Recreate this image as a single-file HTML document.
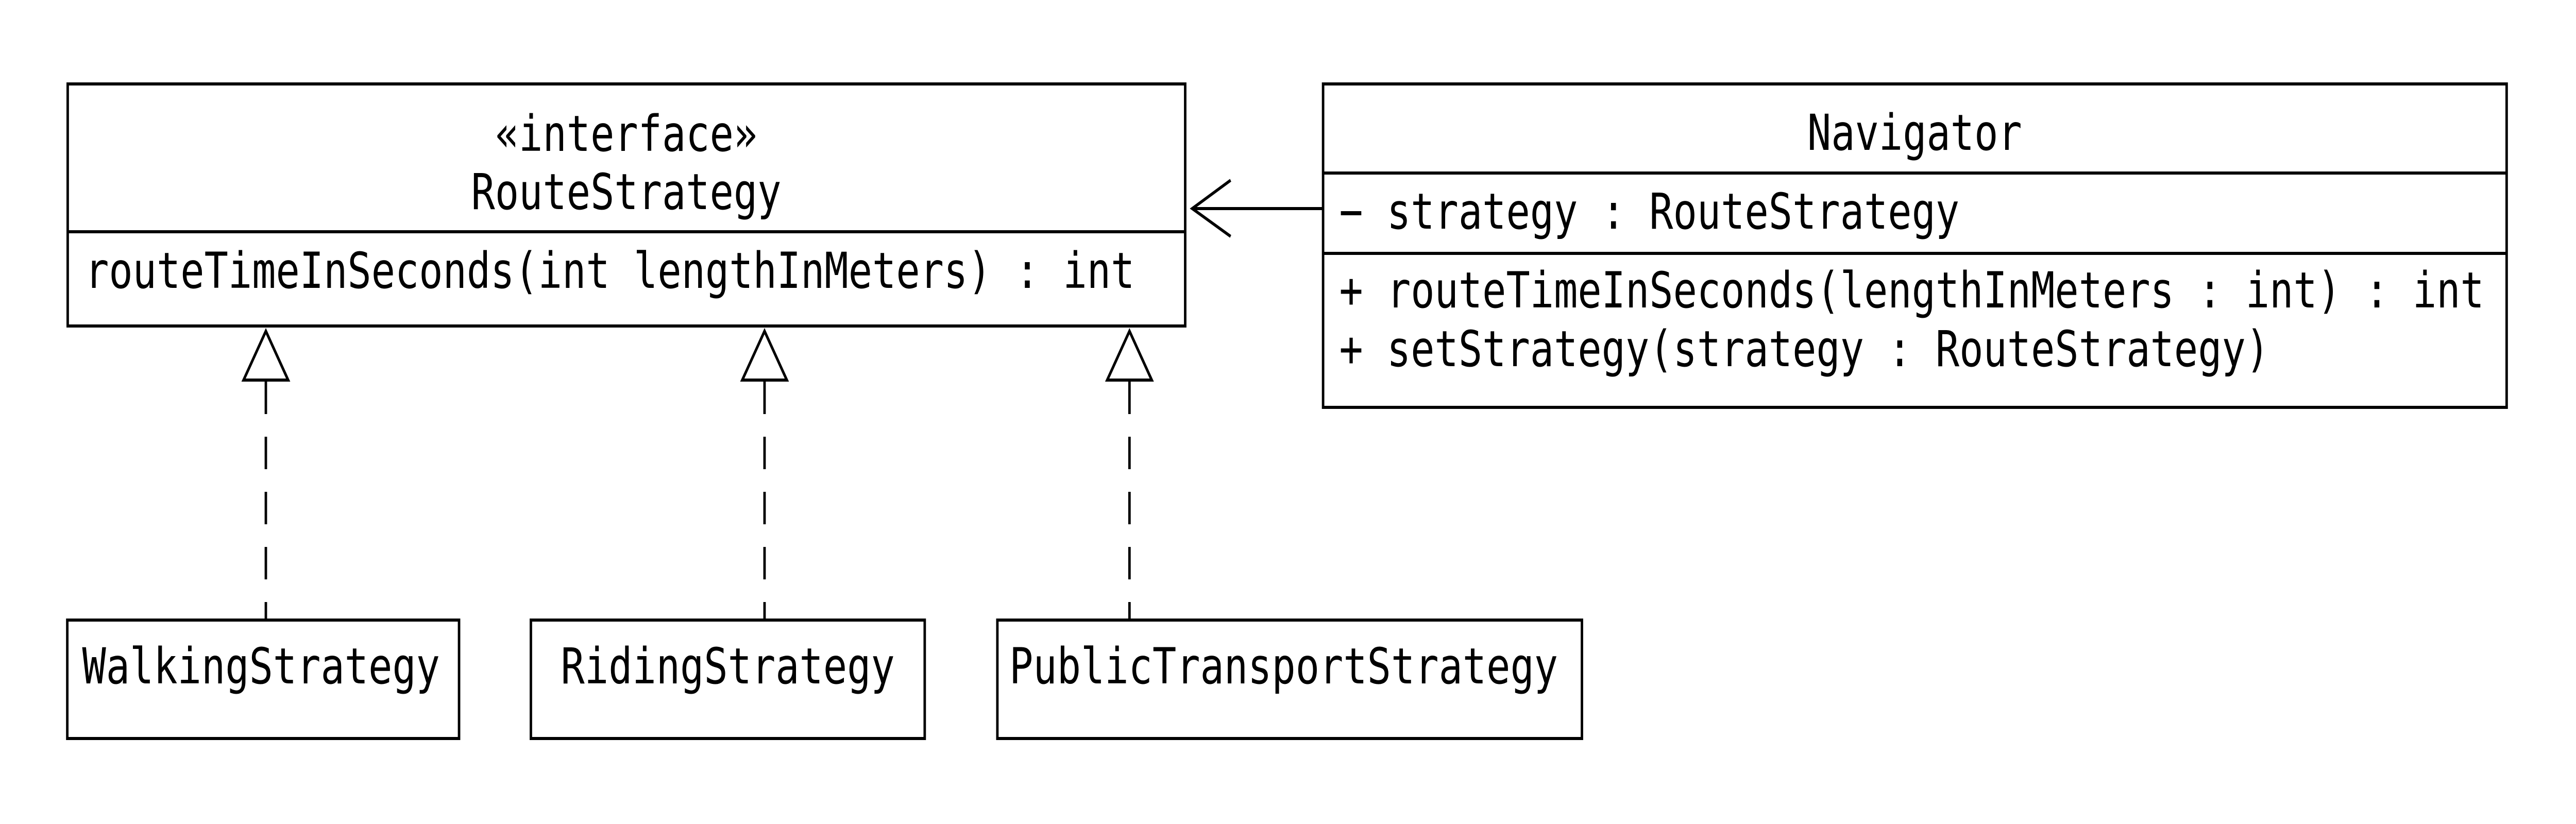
<!DOCTYPE html>
<html><head><meta charset="utf-8"><style>html,body{margin:0;padding:0;background:#fff;width:100%;height:100%;overflow:hidden}svg{display:block;position:absolute;left:0;top:0;width:100vw;height:100vh}</style></head>
<body>
<svg viewBox="0 0 6240 1600" preserveAspectRatio="none" xmlns="http://www.w3.org/2000/svg" font-family="'DejaVu Sans Mono','Liberation Mono',monospace" font-size="96" fill="#000">
<g fill="none" stroke="#000" stroke-width="6">
<rect x="164" y="163" width="2707" height="470"/>
<line x1="164" y1="450" x2="2871" y2="450"/>
<rect x="3205" y="163" width="2867" height="628"/>
<line x1="3205" y1="336" x2="6072" y2="336"/>
<line x1="3205" y1="492" x2="6072" y2="492"/>
<rect x="163" y="1204" width="949" height="230"/>
<rect x="1286" y="1204" width="954" height="230"/>
<rect x="2416" y="1204" width="1416" height="230"/>
<line x1="3205" y1="405" x2="2888" y2="405"/>
<polyline points="2981,350 2888,405 2981,459"/>
<g stroke-dasharray="63,44">
<line x1="644" y1="741" x2="644" y2="1204"/>
<line x1="1852" y1="741" x2="1852" y2="1204"/>
<line x1="2736" y1="741" x2="2736" y2="1204"/>
</g>
<polygon points="644,643 590,738 698,738"/>
<polygon points="1852,643 1798,738 1906,738"/>
<polygon points="2736,643 2682,738 2790,738"/>
</g>
<text x="1517" y="293" text-anchor="middle">«interface»</text>
<text x="1517" y="406" text-anchor="middle">RouteStrategy</text>
<text x="206" y="559">routeTimeInSeconds(int lengthInMeters) : int</text>
<text x="4638" y="291" text-anchor="middle">Navigator</text>
<text x="3244" y="444">− strategy : RouteStrategy</text>
<text x="3244" y="597">+ routeTimeInSeconds(lengthInMeters : int) : int</text>
<text x="3244" y="711">+ setStrategy(strategy : RouteStrategy)</text>
<text x="199" y="1327">WalkingStrategy</text>
<text x="1763" y="1327" text-anchor="middle">RidingStrategy</text>
<text x="2445" y="1327">PublicTransportStrategy</text>
</svg>
</body></html>
